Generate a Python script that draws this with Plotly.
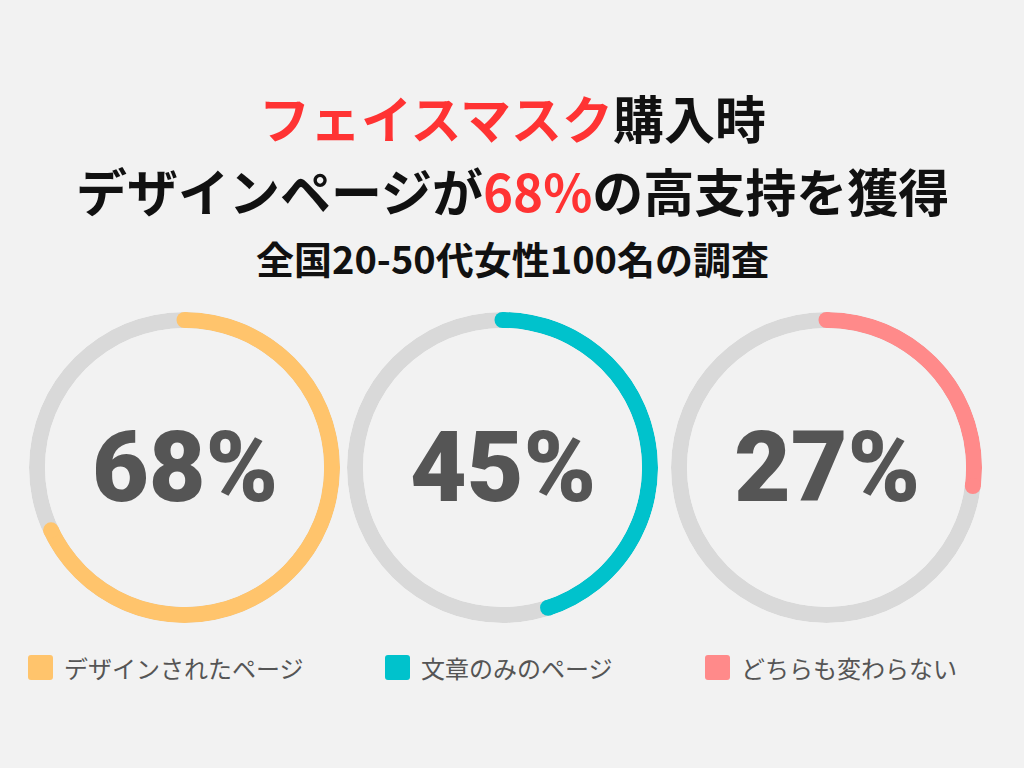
import plotly.graph_objects as go

# ---- data ----
categories = ["デザインされたページ", "文章のみのページ", "どちらも変わらない"]
values = [68, 45, 27]
colors = ["#FFC46C", "#00C2CC", "#FF8A8A"]
track_color = "#D9D9D9"

title_line1_red = "フェイスマスク"
title_line1_black = "購入時"
title_line2_a = "デザインページが"
title_line2_red = "68%"
title_line2_b = "の高支持を獲得"
subtitle = "全国20-50代女性100名の調査"

W, H = 1024, 768
centers_x = [184.5, 502.5, 826.5]
center_y = 467.5
R_out = 155.5
R_in = 139.5

fig = go.Figure()

for i, (cat, v, col) in enumerate(zip(categories, values, colors)):
    pname = "polar" if i == 0 else f"polar{i+1}"
    sub = pname
    # track ring
    fig.add_trace(go.Barpolar(r=[1], theta=[180], width=[360], base=0,
                              marker=dict(color=track_color, line=dict(width=0)),
                              subplot=sub, showlegend=False, hoverinfo="skip"))
    # value arc
    fig.add_trace(go.Barpolar(r=[1], theta=[v * 3.6 / 2], width=[v * 3.6], base=0,
                              marker=dict(color=col, line=dict(width=0)),
                              subplot=sub, showlegend=False, name=cat))
    # rounded caps
    fig.add_trace(go.Scatterpolar(r=[0.5, 0.5], theta=[0, v * 3.6], mode="markers",
                                  marker=dict(size=R_out - R_in, color=col, line=dict(width=0)),
                                  subplot=sub, showlegend=False, hoverinfo="skip"))
    cx = centers_x[i]
    dom = dict(x=[(cx - R_out) / W, (cx + R_out) / W],
               y=[1 - (center_y + R_out) / H, 1 - (center_y - R_out) / H])
    fig.layout[pname] = dict(
        domain=dom,
        hole=R_in / R_out,
        bgcolor="rgba(0,0,0,0)",
        radialaxis=dict(range=[0, 1], visible=False, showgrid=False),
        angularaxis=dict(rotation=90, direction="clockwise", visible=False,
                         showgrid=False, showline=False, showticklabels=False, ticks=""),
    )
    # center percentage
    fig.add_annotation(x=cx / W, y=1 - center_y / H, xref="paper", yref="paper",
                       text=f"{v}%", showarrow=False, xanchor="center", yanchor="middle",
                       font=dict(family="Roboto", size=98, color="#555555", weight=900))

# legend
legend_x = [28, 385, 705]
legend_y = 667.5
sq = 25
rr = 3
for lx, cat, col in zip(legend_x, categories, colors):
    x0, x1 = lx / W, (lx + sq) / W
    y0, y1 = 1 - (legend_y + sq / 2) / H, 1 - (legend_y - sq / 2) / H
    rx, ry = rr / W, rr / H
    path = (f"M {x0+rx},{y0} L {x1-rx},{y0} Q {x1},{y0} {x1},{y0+ry} "
            f"L {x1},{y1-ry} Q {x1},{y1} {x1-rx},{y1} L {x0+rx},{y1} "
            f"Q {x0},{y1} {x0},{y1-ry} L {x0},{y0+ry} Q {x0},{y0} {x0+rx},{y0} Z")
    fig.add_shape(type="path", path=path, xref="paper", yref="paper",
                  fillcolor=col, line=dict(width=0))
    fig.add_annotation(x=(lx + sq + 9) / W, y=1 - legend_y / H, xref="paper", yref="paper",
                       text=cat, showarrow=False, xanchor="left", yanchor="middle",
                       font=dict(family="Noto Sans CJK JP", size=24, color="#555555", weight=400))

# titles
red = "#FF3333"
fig.add_annotation(x=0.5, y=1 - 117 / H, xref="paper", yref="paper", showarrow=False,
                   text=f"<span style='color:{red}'>{title_line1_red}</span>{title_line1_black}",
                   xanchor="center", yanchor="middle",
                   font=dict(family="Noto Sans CJK JP", size=51, color="#111111", weight=700))
fig.add_annotation(x=0.5, y=1 - 190 / H, xref="paper", yref="paper", showarrow=False,
                   text=f"{title_line2_a}<span style='color:{red}'>{title_line2_red}</span>{title_line2_b}",
                   xanchor="center", yanchor="middle",
                   font=dict(family="Noto Sans CJK JP", size=51, color="#111111", weight=700))
fig.add_annotation(x=0.5, y=1 - 257 / H, xref="paper", yref="paper", showarrow=False,
                   text=subtitle, xanchor="center", yanchor="middle",
                   font=dict(family="Noto Sans CJK JP", size=38, color="#111111", weight=700))

fig.update_layout(width=W, height=H, margin=dict(l=0, r=0, t=0, b=0),
                  paper_bgcolor="#F2F2F2", plot_bgcolor="#F2F2F2", showlegend=False)

fig.write_html("out.html", config={"displayModeBar": False},
               post_script="document.body.style.margin='0';")
